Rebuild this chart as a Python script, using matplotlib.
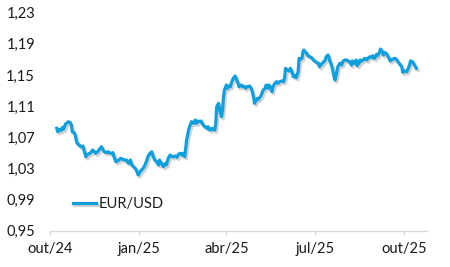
import matplotlib
matplotlib.use("Agg")
import matplotlib.pyplot as plt
import matplotlib.patheffects as pe
import pandas as pd

dates = [
    "2024-10-22","2024-10-23","2024-10-25","2024-10-26","2024-10-28","2024-10-29","2024-10-31",
    "2024-11-03","2024-11-05","2024-11-06","2024-11-07","2024-11-09","2024-11-10","2024-11-11",
    "2024-11-12","2024-11-14","2024-11-16","2024-11-18","2024-11-19","2024-11-21","2024-11-22",
    "2024-11-25","2024-11-26","2024-11-28","2024-11-30","2024-12-01","2024-12-03","2024-12-05",
    "2024-12-07","2024-12-08","2024-12-10","2024-12-12","2024-12-14","2024-12-15","2024-12-17",
    "2024-12-19","2024-12-20","2024-12-22","2024-12-24","2024-12-26","2024-12-27","2024-12-29",
    "2024-12-31","2025-01-02","2025-01-04","2025-01-06","2025-01-07","2025-01-09","2025-01-11",
    "2025-01-12","2025-01-14","2025-01-16","2025-01-18","2025-01-19","2025-01-21","2025-01-23",
    "2025-01-24","2025-01-26","2025-01-28","2025-01-29","2025-01-31","2025-02-02","2025-02-04",
    "2025-02-05","2025-02-07","2025-02-09","2025-02-11","2025-02-12","2025-02-14","2025-02-16",
    "2025-02-18","2025-02-19","2025-02-21","2025-02-23","2025-02-24","2025-02-26","2025-02-28",
    "2025-03-01","2025-03-03","2025-03-05","2025-03-07","2025-03-08","2025-03-10","2025-03-12",
    "2025-03-14","2025-03-15","2025-03-17","2025-03-19","2025-03-20","2025-03-22","2025-03-24",
    "2025-03-26","2025-03-27","2025-03-29","2025-03-31","2025-04-01","2025-04-03","2025-04-04",
    "2025-04-05","2025-04-07","2025-04-08","2025-04-09","2025-04-10","2025-04-11","2025-04-12",
    "2025-04-13","2025-04-15","2025-04-16","2025-04-17","2025-04-19","2025-04-20","2025-04-22",
    "2025-04-24","2025-04-25","2025-04-27","2025-04-28","2025-04-30","2025-05-02","2025-05-03",
    "2025-05-05","2025-05-06","2025-05-09","2025-05-10","2025-05-11","2025-05-13","2025-05-14",
    "2025-05-15","2025-05-17","2025-05-18","2025-05-20","2025-05-21","2025-05-23","2025-05-25",
    "2025-05-26","2025-05-28","2025-05-29","2025-05-31","2025-06-01","2025-06-02","2025-06-04",
    "2025-06-06","2025-06-07","2025-06-09","2025-06-11","2025-06-13","2025-06-14","2025-06-15",
    "2025-06-17","2025-06-19","2025-06-20","2025-06-22","2025-06-23","2025-06-25","2025-06-26",
    "2025-06-28","2025-06-29","2025-06-30","2025-07-02","2025-07-03","2025-07-04","2025-07-05",
    "2025-07-07","2025-07-08","2025-07-10","2025-07-12","2025-07-14","2025-07-15","2025-07-17",
    "2025-07-19","2025-07-20","2025-07-22","2025-07-24","2025-07-26","2025-07-27","2025-07-29",
    "2025-07-30","2025-07-31","2025-08-02","2025-08-03","2025-08-05","2025-08-06","2025-08-07",
    "2025-08-08","2025-08-10","2025-08-12","2025-08-13","2025-08-15","2025-08-17","2025-08-19",
    "2025-08-20","2025-08-22","2025-08-23","2025-08-25","2025-08-27","2025-08-28","2025-08-29",
    "2025-08-30","2025-08-31","2025-09-02","2025-09-04","2025-09-05","2025-09-07","2025-09-08",
    "2025-09-10","2025-09-12","2025-09-13","2025-09-15","2025-09-17","2025-09-18","2025-09-20",
    "2025-09-21","2025-09-23","2025-09-24","2025-09-25","2025-09-27","2025-09-29","2025-10-01",
    "2025-10-02","2025-10-04","2025-10-06","2025-10-08","2025-10-09","2025-10-11","2025-10-13",
    "2025-10-14","2025-10-16","2025-10-18","2025-10-19","2025-10-21","2025-10-22","2025-10-24",
    "2025-10-25","2025-10-27","2025-10-28",
]

eur_usd = [
    1.0815,1.0771,1.0802,1.0784,1.0828,1.0802,1.0870,
    1.0900,1.0887,1.0857,1.0771,1.0759,1.0729,1.0665,
    1.0622,1.0601,1.0579,1.0588,1.0536,1.0450,1.0472,
    1.0494,1.0502,1.0536,1.0514,1.0494,1.0514,1.0545,
    1.0579,1.0558,1.0514,1.0502,1.0514,1.0502,1.0494,
    1.0502,1.0450,1.0386,1.0399,1.0417,1.0430,1.0417,
    1.0408,1.0408,1.0365,1.0408,1.0356,1.0322,1.0301,
    1.0280,1.0215,1.0258,1.0288,1.0301,1.0344,1.0408,
    1.0450,1.0494,1.0514,1.0472,1.0408,1.0386,1.0344,
    1.0408,1.0365,1.0322,1.0365,1.0344,1.0430,1.0472,
    1.0450,1.0450,1.0459,1.0443,1.0472,1.0494,1.0472,
    1.0494,1.0450,1.0665,1.0793,1.0836,1.0900,1.0879,
    1.0922,1.0879,1.0909,1.0900,1.0909,1.0857,1.0836,
    1.0815,1.0836,1.0793,1.0815,1.0802,1.0793,1.0879,
    1.1092,1.1136,1.1050,1.1008,1.0964,1.1050,1.1221,
    1.1307,1.1371,1.1329,1.1358,1.1349,1.1393,1.1457,
    1.1487,1.1457,1.1393,1.1349,1.1371,1.1349,1.1358,
    1.1329,1.1349,1.1358,1.1342,1.1316,1.1221,1.1136,
    1.1157,1.1200,1.1188,1.1221,1.1243,1.1307,1.1329,
    1.1371,1.1329,1.1371,1.1337,1.1285,1.1349,1.1393,
    1.1414,1.1393,1.1414,1.1423,1.1414,1.1457,1.1586,
    1.1564,1.1551,1.1586,1.1534,1.1478,1.1491,1.1465,
    1.1542,1.1714,1.1705,1.1714,1.1799,1.1821,1.1799,
    1.1778,1.1748,1.1735,1.1722,1.1692,1.1680,1.1663,
    1.1650,1.1606,1.1637,1.1663,1.1692,1.1735,1.1757,
    1.1714,1.1671,1.1606,1.1542,1.1435,1.1478,1.1542,
    1.1606,1.1650,1.1628,1.1671,1.1692,1.1692,1.1680,
    1.1671,1.1628,1.1680,1.1650,1.1692,1.1619,1.1671,
    1.1650,1.1692,1.1680,1.1705,1.1714,1.1692,1.1714,
    1.1735,1.1722,1.1748,1.1714,1.1766,1.1748,1.1791,
    1.1834,1.1799,1.1757,1.1791,1.1778,1.1735,1.1680,
    1.1692,1.1705,1.1714,1.1692,1.1671,1.1637,1.1606,
    1.1534,1.1551,1.1542,1.1564,1.1628,1.1680,1.1671,
    1.1650,1.1606,1.1586,
]

tick_dates = ["2024-10-15", "2025-01-15", "2025-04-15", "2025-07-15", "2025-10-15"]
tick_labels = ["out/24", "jan/25", "abr/25", "jul/25", "out/25"]
y_ticks = [0.95, 0.99, 1.03, 1.07, 1.11, 1.15, 1.19, 1.23]
series_name = "EUR/USD"

plt.rcParams['font.family'] = ['Lato', 'DejaVu Sans']
text_color = '#1a1a1a'
line_color = '#0f9fdc'
axis_color = '#d9d9d9'
fs = 10.5

fig = plt.figure(figsize=(4.5, 2.67), dpi=100)
ax = fig.add_axes([50/450, 1 - 230.7/267, 377/450, 218/267])

x = pd.to_datetime(dates)
ax.plot(x, eur_usd, color=line_color, lw=2.3, solid_joinstyle='round',
        label=series_name,
        path_effects=[pe.SimpleLineShadow(offset=(1.2, -1.6), shadow_color='#808080', alpha=0.35),
                      pe.Normal()])

ax.set_ylim(0.95, 1.23)
ax.set_yticks(y_ticks)
ax.set_yticklabels([f"{v:.2f}".replace('.', ',') for v in y_ticks])
ax.set_xlim(pd.Timestamp("2024-10-15"), pd.Timestamp("2025-11-08"))
ax.set_xticks(pd.to_datetime(tick_dates))
ax.set_xticklabels(tick_labels)

for s in ['top', 'right', 'left']:
    ax.spines[s].set_visible(False)
ax.spines['bottom'].set_color(axis_color)
ax.spines['bottom'].set_linewidth(1.0)
ax.tick_params(axis='y', length=0, pad=10.8, labelsize=fs, labelcolor=text_color)
ax.tick_params(axis='x', length=2.9, width=1.0, color=axis_color, pad=5.0,
               labelsize=fs, labelcolor=text_color)

leg = ax.legend(loc='center left', bbox_to_anchor=(0.060, 0.1225), frameon=False,
                borderpad=0, borderaxespad=0, handlelength=1.6, handletextpad=0.15,
                fontsize=fs)
for t in leg.get_texts():
    t.set_color(text_color)

fig.savefig("out.png", dpi=100)
